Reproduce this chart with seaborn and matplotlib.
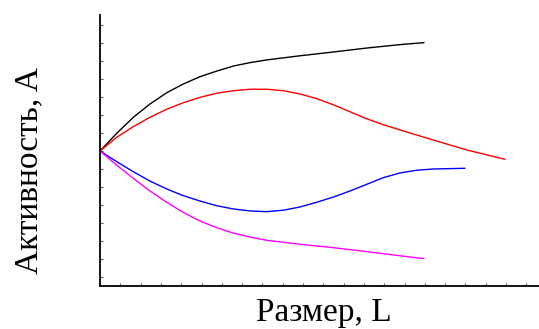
import matplotlib
matplotlib.use("Agg")
import matplotlib.pyplot as plt
import seaborn as sns
import pandas as pd

sns.set_theme(style="white")
plt.rcParams['font.family'] = ['Liberation Serif', 'DejaVu Serif']

black_x = [0, 0.82, 1.64, 2.46, 3.29, 4.10, 4.93, 5.75, 6.57, 7.39, 8.21, 9.85, 11.49, 13.14, 14.78, 15.96]
black_y = [7.0, 7.98, 8.87, 9.61, 10.24, 10.72, 11.13, 11.44, 11.72, 11.91, 12.06, 12.29, 12.50, 12.72, 12.91, 13.02]

red_x = [0, 0.82, 1.64, 2.46, 3.29, 4.10, 4.93, 5.75, 6.57, 7.39, 8.21, 9.03, 9.85, 10.67, 11.49,
         12.32, 13.14, 13.96, 14.78, 16.42, 18.06, 19.95]
red_y = [7.0, 7.76, 8.35, 8.87, 9.32, 9.68, 9.98, 10.21, 10.35, 10.43, 10.43, 10.35, 10.17, 9.91, 9.57,
         9.18, 8.79, 8.46, 8.17, 7.61, 7.06, 6.54]

blue_x = [0, 0.82, 1.64, 2.46, 3.29, 4.10, 4.93, 5.75, 6.57, 7.39, 8.21, 9.03, 9.85, 10.67, 11.49,
          12.32, 13.14, 13.96, 14.78, 15.60, 16.42, 17.98]
blue_y = [7.0, 6.41, 5.85, 5.33, 4.89, 4.52, 4.22, 3.96, 3.78, 3.67, 3.63, 3.71, 3.89, 4.15, 4.44,
          4.78, 5.15, 5.52, 5.78, 5.93, 6.00, 6.04]

magenta_x = [0, 0.82, 1.64, 2.46, 3.29, 4.10, 4.93, 5.75, 6.57, 7.39, 8.21, 9.85, 11.49, 13.14, 14.78, 15.96]
magenta_y = [7.0, 6.22, 5.48, 4.78, 4.15, 3.59, 3.11, 2.74, 2.44, 2.22, 2.04, 1.82, 1.63, 1.41, 1.18, 1.02]

series_names = ["black", "red", "blue", "magenta"]
series_colors = ["#000000", "#ff0000", "#0000ff", "#ff00ff"]

x_label = "Размер, L"
y_label = "Активность, A"

frames = []
for name, xs, ys in zip(series_names,
                        [black_x, red_x, blue_x, magenta_x],
                        [black_y, red_y, blue_y, magenta_y]):
    frames.append(pd.DataFrame({"x": xs, "y": ys, "s": name}))
df = pd.concat(frames, ignore_index=True)

fig = plt.figure(figsize=(5.39, 3.29), dpi=100)
ax = fig.add_axes([100/539, 1 - 286/329, 1 - 100/539, (286 - 15)/329])

sns.lineplot(data=df, x="x", y="y", hue="s", palette=dict(zip(series_names, series_colors)),
             estimator=None, sort=False, linewidth=1.0, legend=False, ax=ax)

ax.set_xlim(0, 439/20.3)
ax.set_ylim(-0.5, -0.5 + 271/18)
ax.set_xticks(range(1, 22))
ax.set_yticks(range(0, 15))
ax.set_xticklabels([])
ax.set_yticklabels([])
ax.tick_params(axis="both", direction="in", length=2, width=0.8, colors="#555555",
               bottom=True, left=True)
for side in ["top", "right"]:
    ax.spines[side].set_visible(False)
for side in ["left", "bottom"]:
    ax.spines[side].set_color("black")
    ax.spines[side].set_linewidth(1.3)

ax.set_xlabel(x_label, fontsize=24, color="black")
ax.set_ylabel(y_label, fontsize=24, color="black")
ax.xaxis.label.set_va("baseline")
ax.xaxis.set_label_coords((323.5 - 100)/439, (286 - 321)/271)
ax.yaxis.label.set_va("baseline")
ax.yaxis.set_label_coords((37 - 100)/439, (286 - 170.5)/271)

fig.savefig("out.png", dpi=100)
